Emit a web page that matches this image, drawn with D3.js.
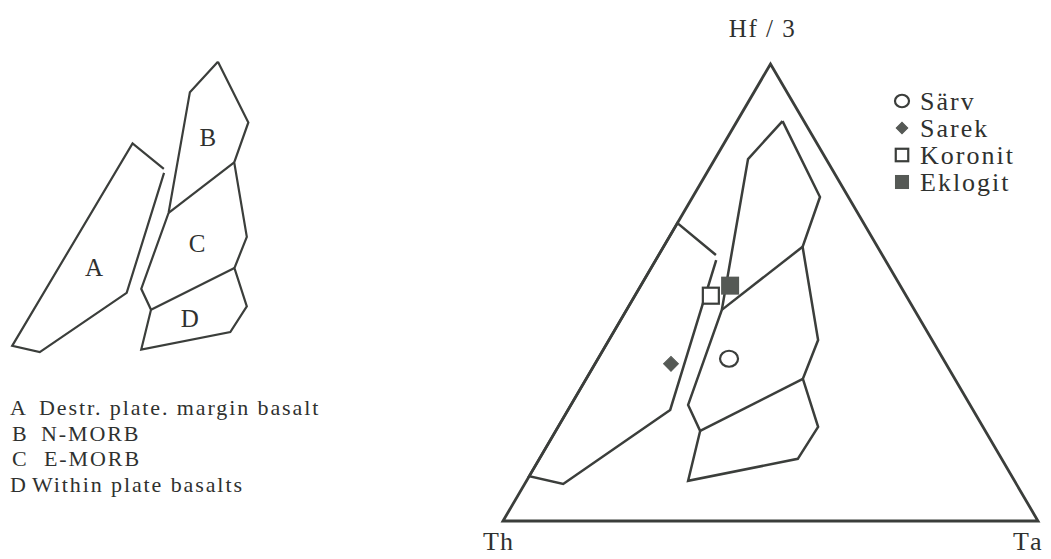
<!DOCTYPE html>
<html>
<head>
<meta charset="utf-8">
<script src="https://cdn.jsdelivr.net/npm/d3@7"></script>
<style>
  html, body { margin: 0; padding: 0; background: #ffffff; }
  svg { display: block; }
  text { font-family: "Liberation Serif", "Times New Roman", serif; fill: #2f312f; }
</style>
</head>
<body>
<svg id="chart" width="1051" height="559"></svg>
<script>
// Ternary compositions in percent: [Th, Hf/3, Ta]
const apexLabels = ["Th", "Hf / 3", "Ta"];

// Field A (destructive plate margin basalts), open at its upper-right corner
const fieldA = [
  [31.6, 57.1, 11.3], [56.6, 24.3, 19.1], [84.7, 8.1, 7.2],
  [90.2, 9.8, 0.0], [34.8, 65.2, 0.0], [31.1, 58.2, 10.7]
];

// Outline of fields B + C + D
const fieldBCD = [
  [4.0, 87.5, 8.5], [5.3, 70.9, 23.8], [14.0, 60.0, 26.0], [21.3, 39.6, 39.1],
  [28.4, 31.1, 40.5], [30.8, 20.6, 48.6], [38.1, 13.6, 48.3], [61.0, 8.8, 30.2],
  [53.3, 19.7, 27.0], [52.7, 25.4, 21.9], [36.0, 46.2, 17.8], [14.6, 79.2, 6.2],
  [4.0, 87.5, 8.5]
];

// Internal boundaries B/C and C/D
const boundaryBC = [[14.0, 60.0, 26.0], [36.0, 46.2, 17.8]];
const boundaryCD = [[28.4, 31.1, 40.5], [53.3, 19.7, 27.0]];

// Field letters and their key
const fieldLetters = ["A", "B", "C", "D"];
const fieldLetterPos = [[60.7, 31.1, 8.2], [16.6, 66.9, 16.5], [33.6, 37.9, 28.5], [45.5, 17.4, 37.1]];
const fieldNames = ["Destr. plate. margin basalt", "N-MORB", "E-MORB", "Within plate basalts"];

// Samples
const sampleNames = ["Särv", "Sarek", "Koronit", "Eklogit"];
const sampleComps = [[40.0, 35.5, 24.5], [51.4, 34.4, 14.2], [36.5, 49.3, 14.2], [31.8, 51.5, 16.7]];

const ink = "#3b3e3b";
const markFill = "#555955";
const svg = d3.select("#chart");

// Ternary projection: Th at bottom-left, Ta at bottom-right, Hf/3 at the top
function ternary(left, right, baseY, topY) {
  const x = d3.scaleLinear().domain([0, 1]).range([left, right]);
  const y = d3.scaleLinear().domain([0, 1]).range([baseY, topY]);
  return function (c) {
    const s = c[0] + c[1] + c[2];
    const hf = c[1] / s, ta = c[2] / s;
    return [x(ta + hf / 2), y(hf)];
  };
}

const mainProj = ternary(503, 1038, 521, 64);
const keyProj = ternary(-9.1, 425.4, 381.7, 16.1);

function drawFields(g, proj, width) {
  const line = d3.line().x(d => proj(d)[0]).y(d => proj(d)[1]);
  [fieldA, fieldBCD, boundaryBC, boundaryCD].forEach(pts => {
    g.append("path")
      .attr("d", line(pts))
      .attr("fill", "none")
      .attr("stroke", ink)
      .attr("stroke-width", width)
      .attr("stroke-linejoin", "miter");
  });
}

// ---- Key diagram on the left ----
const key = svg.append("g");
drawFields(key, keyProj, 2.2);
key.selectAll("text.letter").data(fieldLetters).join("text")
  .attr("class", "letter")
  .attr("x", (d, i) => keyProj(fieldLetterPos[i])[0])
  .attr("y", (d, i) => keyProj(fieldLetterPos[i])[1])
  .attr("text-anchor", "middle")
  .attr("dominant-baseline", "central")
  .attr("font-size", 25)
  .text(d => d);

const keyRows = svg.append("g");
const rowY = d3.scalePoint().domain(fieldLetters).range([415, 492]);
const codeX = [10, 12, 12, 10];
const nameX = [39, 41, 44, 32];
keyRows.selectAll("text.code").data(fieldLetters).join("text")
  .attr("class", "code")
  .attr("x", (d, i) => codeX[i])
  .attr("y", d => rowY(d))
  .attr("font-size", 22)
  .text(d => d);
keyRows.selectAll("text.name").data(fieldNames).join("text")
  .attr("class", "name")
  .attr("x", (d, i) => nameX[i])
  .attr("y", (d, i) => rowY(fieldLetters[i]))
  .attr("font-size", 22)
  .attr("letter-spacing", 1.9)
  .text(d => d);

// ---- Main ternary diagram ----
const main = svg.append("g");
const corners = [[100, 0, 0], [0, 100, 0], [0, 0, 100]].map(mainProj);
main.append("path")
  .attr("d", d3.line()(corners) + "Z")
  .attr("fill", "none")
  .attr("stroke", ink)
  .attr("stroke-width", 2.8)
  .attr("stroke-linejoin", "miter");
drawFields(main, mainProj, 2.5);

main.append("text").attr("x", corners[1][0] - 8).attr("y", 37)
  .attr("text-anchor", "middle").attr("font-size", 25).attr("letter-spacing", 1.5)
  .text(apexLabels[1]);
main.append("text").attr("x", corners[0][0] - 20).attr("y", 550)
  .attr("text-anchor", "start").attr("font-size", 26).attr("letter-spacing", 1)
  .text(apexLabels[0]);
main.append("text").attr("x", corners[2][0] - 25).attr("y", 550)
  .attr("text-anchor", "start").attr("font-size", 26).attr("letter-spacing", 3)
  .text(apexLabels[2]);

// Sample markers
function drawMarker(g, name, x, y, scale) {
  if (name === "Särv") {
    g.append("ellipse").attr("cx", x).attr("cy", y)
      .attr("rx", 9 * scale).attr("ry", 8 * scale)
      .attr("fill", "#fff").attr("stroke", ink).attr("stroke-width", 2.2);
  } else if (name === "Sarek") {
    g.append("path").attr("d", d3.symbol(d3.symbolSquare, 110 * scale * scale)())
      .attr("transform", `translate(${x},${y}) rotate(45)`)
      .attr("fill", markFill).attr("stroke", markFill).attr("stroke-width", 1);
  } else if (name === "Koronit") {
    const s = 16 * scale;
    g.append("rect").attr("x", x - s / 2).attr("y", y - s / 2).attr("width", s).attr("height", s)
      .attr("fill", "#fff").attr("stroke", ink).attr("stroke-width", 2.2);
  } else {
    const s = 18 * scale;
    g.append("rect").attr("x", x - s / 2).attr("y", y - s / 2).attr("width", s).attr("height", s)
      .attr("fill", markFill).attr("stroke", "none");
  }
}

sampleNames.forEach((name, i) => {
  const p = mainProj(sampleComps[i]);
  drawMarker(main, name, p[0], p[1], 1);
});

// Legend
const legendY = d3.scalePoint().domain(sampleNames).range([101, 182]);
const legend = svg.append("g");
sampleNames.forEach(name => {
  drawMarker(legend, name, 902, legendY(name), 0.78);
});
legend.selectAll("text").data(sampleNames).join("text")
  .attr("x", 920)
  .attr("y", d => legendY(d))
  .attr("dominant-baseline", "central")
  .attr("font-size", 26)
  .attr("letter-spacing", 2)
  .text(d => d);
</script>
</body>
</html>
